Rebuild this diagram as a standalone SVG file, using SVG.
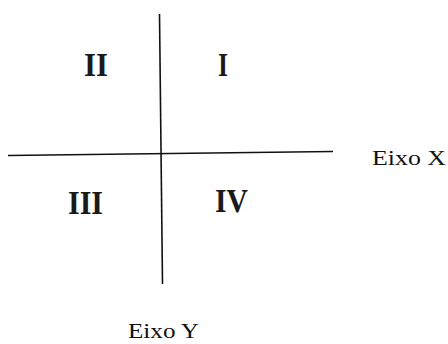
<svg xmlns="http://www.w3.org/2000/svg" width="448" height="344" viewBox="0 0 448 344">
<style>
.axis{stroke:#111;stroke-width:1.6;fill:none;stroke-linecap:butt}
.q{font-family:"Liberation Serif","Times New Roman",serif;font-weight:bold;font-size:34px;fill:#1a1a1a}
.lbl{font-family:"Liberation Serif","Times New Roman",serif;font-size:22px;fill:#111}
</style>
<rect width="448" height="344" fill="#fff"/>
<g id="connectors">
<line class="axis" x1="159.5" y1="14" x2="162.5" y2="284"/>
<line class="axis" x1="8" y1="155.5" x2="333" y2="151.5"/>
</g>
<g id="q2"><text class="q" x="84" y="76" textLength="24" lengthAdjust="spacingAndGlyphs">II</text></g>
<g id="q1"><text class="q" x="218" y="76" textLength="10" lengthAdjust="spacingAndGlyphs">I</text></g>
<g id="q3"><text class="q" x="68" y="214" textLength="35" lengthAdjust="spacingAndGlyphs">III</text></g>
<g id="q4"><text class="q" x="215" y="212" textLength="33" lengthAdjust="spacingAndGlyphs">IV</text></g>
<g id="eixoX"><text class="lbl" x="372" y="165" textLength="74" lengthAdjust="spacingAndGlyphs">Eixo X</text></g>
<g id="eixoY"><text class="lbl" x="128" y="338" textLength="71" lengthAdjust="spacingAndGlyphs">Eixo Y</text></g>
</svg>
